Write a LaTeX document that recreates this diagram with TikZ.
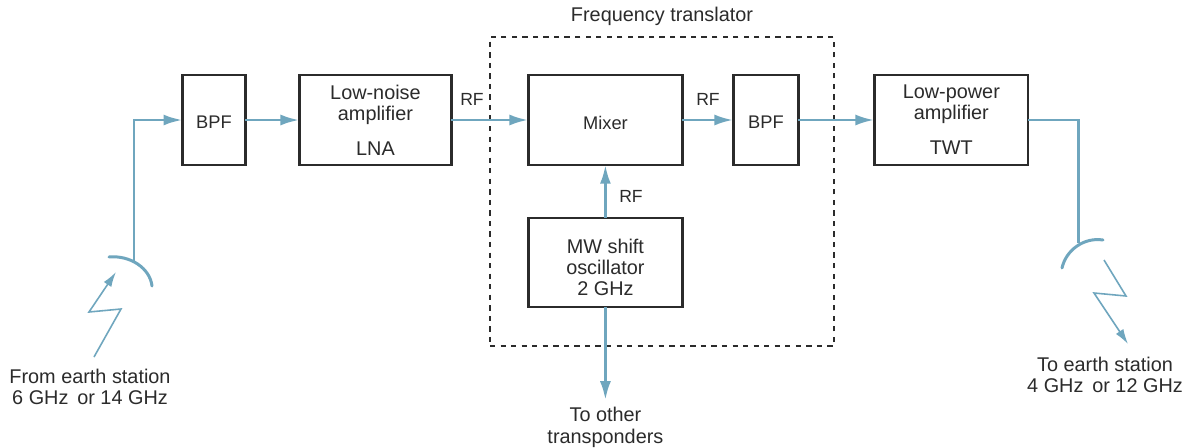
\documentclass[tikz,border=0pt]{standalone}
\usepackage{fontspec}
\setmainfont{Liberation Sans}
\usetikzlibrary{arrows.meta,positioning}

\definecolor{wireblue}{HTML}{6FA6BE}
\definecolor{inkgray}{HTML}{2B2B2B}

\begin{document}
\begin{tikzpicture}[
    x=0.02cm,y=-0.02cm,
    box/.style={draw=inkgray,line width=1.3pt,align=center,text=inkgray,outer sep=0pt,
                 minimum width=3.04cm,minimum height=1.79cm,inner sep=0pt},
    widebox/.style={box,minimum width=3.08cm},
    narrowbox/.style={box,minimum width=1.26cm,font=\fontsize{10.4}{12}\selectfont,text height=10pt},
    label/.style={text=inkgray,align=center,inner sep=0pt},
    smalllabel/.style={label,font=\fontsize{10}{12}\selectfont},
    wire/.style={draw=wireblue,line width=1.7pt},
    feed/.style={wire,-{Latex[length=3.8mm,width=2.2mm]}},
    bolt/.style={draw=wireblue,line width=0.9pt,line join=miter,-{Latex[length=3mm,width=1.8mm]}},
    font=\fontsize{11.3}{12}\selectfont,
  ]
    \useasboundingbox (0,0) rectangle (1190,447);
    \fill[white] (0,0) rectangle (1190,447);

    \node[draw=inkgray,dashed,line width=0.8pt,minimum width=6.88cm,minimum height=6.18cm,inner sep=0pt] (trans) at (662,191.5) {};
    \node[label,above=0.2cm of trans] (translabel) {Frequency translator};

    \node[narrowbox] (bpfin) at (214,120) {BPF};
    \node[box,right=1.08cm of bpfin] (lna) {Low-noise\\amplifier\\[8pt]LNA};
    \node[widebox,font=\fontsize{10.4}{12}\selectfont,text height=11pt,right=1.54cm of lna] (mixer) {Mixer};
    \node[narrowbox,minimum width=1.3cm,right=1.02cm of mixer] (bpfout) {BPF};
    \node[widebox,right=1.52cm of bpfout] (twt) {Low-power\\amplifier\\[8pt]TWT};
    \node[widebox,below=1.06cm of mixer] (osc) {\rule{0pt}{14pt}MW shift\\oscillator\\2 GHz};

    \node[smalllabel] (rfa) at (472,99) {RF};
    \node[smalllabel] (rfb) at (708,99) {RF};
    \node[smalllabel] (rfc) at (631,196) {RF};

    \node[label] (from) at (90,387) {From earth station\\6 GHz\, or 14 GHz};
    \node[label] (to) at (1105,374.5) {To earth station\\4 GHz\, or 12 GHz};
    \node[label,below=2cm of osc] (other) {To other\\transponders};

    \coordinate (dishin) at (134,262);
    \coordinate (dishout) at (1078,243);

    \draw[feed] (dishin) |- (bpfin);
    \draw[feed] (bpfin) -- (lna);
    \draw[feed] (lna) -- (mixer);
    \draw[feed] (mixer) -- (bpfout);
    \draw[feed] (bpfout) -- (twt);
    \draw[feed] (osc) -- (mixer);
    \draw[feed,shorten >=0.14cm] (osc) -- (other);
    \draw[wire] (twt.east) -| (dishout);

    \draw[wire,line cap=round] (109,257) .. controls (130,255) and (150,268) .. (152,286);
    \draw[wire,line cap=round] (1062,268) .. controls (1066,250) and (1084,237) .. (1103,240);

    \draw[bolt] (94,357) -- (121,309) -- (89,312) -- (116,272);
    \draw[bolt] (1104,260) -- (1126,296) -- (1094,293) -- (1128,344);
\end{tikzpicture}
\end{document}
